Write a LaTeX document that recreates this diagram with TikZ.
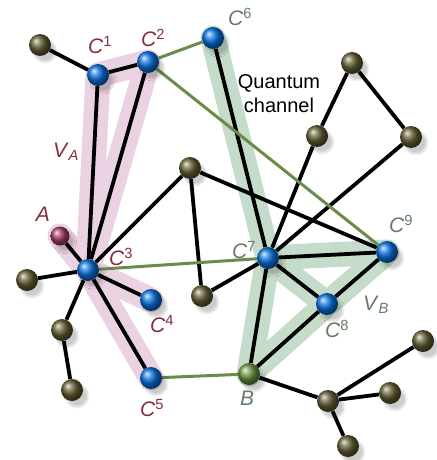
\documentclass[tikz,border=0pt]{standalone}
\usepackage{fontspec}
\setmainfont{Liberation Sans}
\usetikzlibrary{shadows.blur}

\definecolor{nodeblue}{RGB}{10,115,225}
\definecolor{nodeolive}{RGB}{100,95,52}
\definecolor{nodeA}{RGB}{170,60,105}
\definecolor{nodeB}{RGB}{110,150,70}
\definecolor{linkgreen}{RGB}{105,140,75}
\definecolor{bandpink}{RGB}{235,210,226}
\definecolor{bandgreen}{RGB}{198,220,202}
\definecolor{labA}{RGB}{135,45,60}
\definecolor{labB}{RGB}{100,125,100}

\pgfdeclarelayer{bands}
\pgfdeclarelayer{edges}
\pgfsetlayers{bands,edges,main}

\newcommand{\clab}[1]{\textit{C}\textsuperscript{#1}}

\tikzset{
  ball/.style={circle, inner sep=0pt, minimum size=22pt, shading=ball,
    blur shadow={shadow xshift=5pt, shadow yshift=-6pt, shadow opacity=20, shadow blur steps=10}},
  bluenode/.style={ball, ball color=nodeblue},
  olivenode/.style={ball, ball color=nodeolive},
  edge/.style={line width=3.8pt, black},
  qlink/.style={line width=3pt, linkgreen},
  band/.style={line width=25pt, line join=round, line cap=round},
  labA/.style={text=labA, font=\fontsize{21}{24}\selectfont},
  labB/.style={text=labB, font=\fontsize{21}{24}\selectfont}
}

\begin{document}
\begin{tikzpicture}[x=1pt, y=-1pt]
  \useasboundingbox (0,0) rectangle (436,460);

  % V_A side
  \node[olivenode] (oTL) at (40,45) {};
  \node[bluenode] (C1) at (98,75) {};
  \node[bluenode] (C2) at (148,62) {};
  \node[ball, ball color=nodeA, minimum size=19pt] (A) at (60,236) {};
  \node[bluenode] (C3) at (88,270) {};
  \node[bluenode] (C4) at (151,300) {};
  \node[bluenode] (C5) at (151,378) {};
  \node[olivenode] (oL) at (27,280) {};
  \node[olivenode] (oLa) at (62,330) {};
  \node[olivenode] (oLb) at (72,390) {};

  % middle
  \node[olivenode] (oMid) at (190,168) {};
  \node[olivenode] (oLow) at (202,296) {};

  % V_B side
  \node[bluenode] (C6) at (213,38) {};
  \node[bluenode] (C7) at (268,258) {};
  \node[bluenode] (C8) at (327,304) {};
  \node[bluenode] (C9) at (387,252) {};
  \node[ball, ball color=nodeB] (B) at (249,374) {};

  % upper right
  \node[olivenode] (oQa) at (352,63) {};
  \node[olivenode] (oQb) at (317,136) {};
  \node[olivenode] (oQc) at (411,137) {};

  % lower right
  \node[olivenode] (oHub) at (328,401) {};
  \node[olivenode] (oR1) at (423,341) {};
  \node[olivenode] (oR2) at (390,393) {};
  \node[olivenode] (oR3) at (348,446) {};

  % highlighted sets
  \begin{pgfonlayer}{bands}
    \draw[band, bandpink] (C1.center) -- (C2.center) -- (C3.center) -- cycle
      (A.center) -- (C3.center) -- (C5.center) (C3.center) -- (C4.center);
    \draw[band, bandgreen] (C6.center) -- (C7.center) -- (B.center) -- (C8.center)
      -- (C9.center) -- (C7.center) -- (C8.center);
  \end{pgfonlayer}

  % connectors
  \begin{pgfonlayer}{edges}
    \draw[edge] (oTL) -- (C1);
    \draw[edge] (C1) -- (C2);
    \draw[edge] (C1) -- (C3);
    \draw[edge] (C2) -- (C3);
    \draw[edge] (A) -- (C3);
    \draw[edge] (C3) -- (oL);
    \draw[edge] (C3) -- (oLa);
    \draw[edge] (oLa) -- (oLb);
    \draw[edge] (C3) -- (C4);
    \draw[edge] (C3) -- (C5);
    \draw[edge] (C3) -- (oMid);
    \draw[edge] (oMid) -- (oLow);
    \draw[edge] (oMid) -- (C9);
    \draw[edge] (oLow) -- (C7);
    \draw[edge] (C6) -- (C7);
    \draw[edge] (oQb) -- (C7);
    \draw[edge] (oQc) -- (C7);
    \draw[edge] (oQa) -- (oQb);
    \draw[edge] (oQa) -- (oQc);
    \draw[edge] (C7) -- (C9);
    \draw[edge] (C7) -- (C8);
    \draw[edge] (C8) -- (C9);
    \draw[edge] (C7) -- (B);
    \draw[edge] (C8) -- (B);
    \draw[edge] (B) -- (oHub);
    \draw[edge] (oHub) -- (oR1);
    \draw[edge] (oHub) -- (oR2);
    \draw[edge] (oHub) -- (oR3);
    % quantum links
    \draw[qlink] (C2) -- (C6);
    \draw[qlink] (C2) -- (C9);
    \draw[qlink] (C3) -- (C7);
    \draw[qlink] (C5) -- (B);
  \end{pgfonlayer}

  % labels
  \node[labA] (lC1) at (100,45) {\clab{1}};
  \node[labA] (lC2) at (153,38) {\clab{2}};
  \node[labA] (lVA) at (66,152) {\textit{V}\textsubscript{\textit{A}}};
  \node[labA] (lA) at (43,214) {\textit{A}};
  \node[labA] (lC3) at (121,257) {\clab{3}};
  \node[labA] (lC4) at (162,324) {\clab{4}};
  \node[labA] (lC5) at (152,408) {\clab{5}};
  \node[labB] (lC6) at (240,17) {\clab{6}};
  \node[labB] (lC7) at (244,250) {\clab{7}};
  \node[labB] (lC8) at (337,329) {\clab{8}};
  \node[labB] (lC9) at (401,224) {\clab{9}};
  \node[labB] (lVB) at (376,305) {\textit{V}\textsubscript{\textit{B}}};
  \node[labB] (lB) at (247,398) {\textit{B}};
  \node[align=center, font=\fontsize{20}{24}\selectfont] (lQ) at (279,94) {Quantum\\channel};
\end{tikzpicture}
\end{document}
